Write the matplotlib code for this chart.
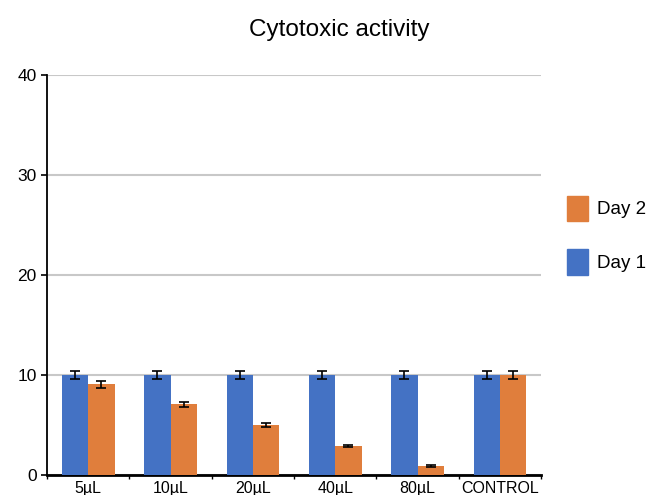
import numpy as np
import matplotlib
matplotlib.use('Agg')
from matplotlib import pyplot as plt
from matplotlib.patches import Patch

categories = ['5µL', '10µL', '20µL', '40µL', '80µL', 'CONTROL']
day1 = [10, 10, 10, 10, 10, 10]
day1_err = [0.4, 0.4, 0.4, 0.4, 0.4, 0.4]
day2 = [9.1, 7.1, 5.0, 2.9, 0.9, 10]
day2_err = [0.35, 0.25, 0.18, 0.12, 0.06, 0.4]
yticks = [0, 10, 20, 30, 40]

blue = '#4472C4'
orange = '#E07E3C'

plt.rcParams['font.family'] = ['Liberation Sans', 'DejaVu Sans']

fig = plt.figure(figsize=(6.46, 4.95), dpi=100)
ax = fig.add_axes([0.0728, 0.0404, 0.7647, 0.808])

x = np.arange(len(categories))
w = 0.32
ax.bar(x - w / 2, day1, w, color=blue, yerr=day1_err, capsize=3.5,
       error_kw=dict(ecolor='black', elinewidth=1.2, capthick=1.2), zorder=3)
ax.bar(x + w / 2, day2, w, color=orange, yerr=day2_err, capsize=3.5,
       error_kw=dict(ecolor='black', elinewidth=1.2, capthick=1.2), zorder=3)

ax.set_xlim(-0.5, len(categories) - 0.5)
ax.set_ylim(0, 40)
ax.set_yticks(yticks)
ax.tick_params(axis='y', labelsize=12.5, length=4, width=1.2, direction='out')
ax.yaxis.grid(True, color='#c8c8c8', linewidth=1.5, zorder=0)
ax.set_axisbelow(True)

# category labels, small ticks between groups
ax.set_xticks(x)
ax.set_xticklabels(categories, fontsize=11.5)
ax.tick_params(axis='x', length=0, pad=4)
ax.set_xticks(np.arange(len(categories) + 1) - 0.5, minor=True)
ax.tick_params(axis='x', which='minor', length=3, width=1, direction='out')

for s in ['top', 'right']:
    ax.spines[s].set_visible(False)
ax.spines['left'].set_linewidth(1.3)
ax.spines['bottom'].set_linewidth(2)

fig.text(0.525, 0.94, 'Cytotoxic activity', ha='center', va='center', fontsize=17.5)

handles = [Patch(color=orange, label='Day 2'), Patch(color=blue, label='Day 1')]
fig.legend(handles=handles, loc='center left', bbox_to_anchor=(0.878, 0.525),
           frameon=False, fontsize=13.5, handlelength=1.1, handleheight=1.7,
           labelspacing=1.5, handletextpad=0.5, borderpad=0, borderaxespad=0)

fig.savefig('out.png', dpi=100)
